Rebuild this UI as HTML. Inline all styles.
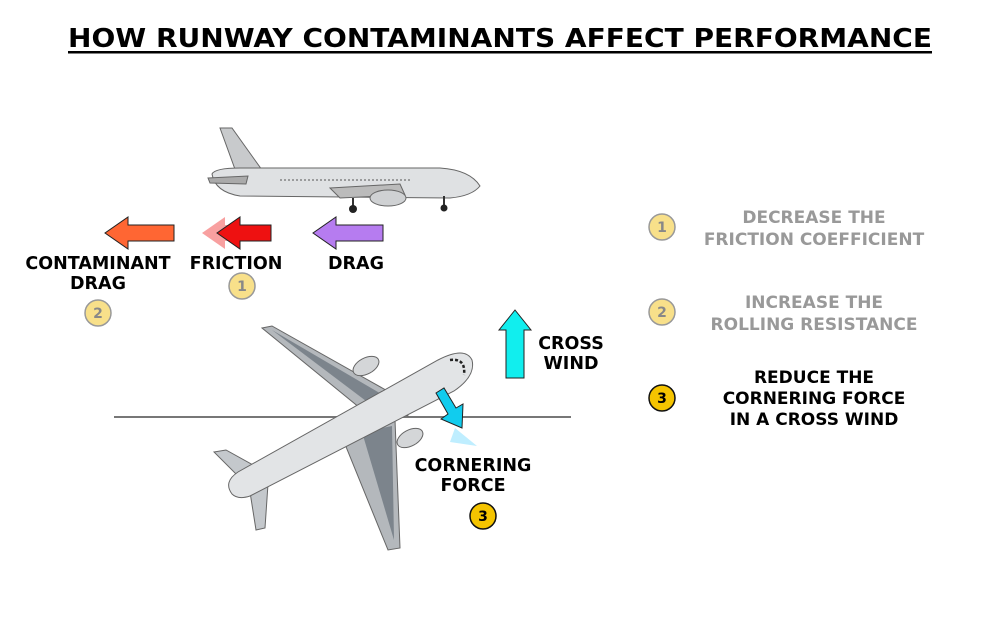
<!DOCTYPE html>
<html><head><meta charset="utf-8"><style>body{margin:0;background:#fff}svg{display:block}text{font-family:"DejaVu Sans","Liberation Sans",sans-serif;font-weight:bold}</style></head><body>
<svg width="1000" height="625" viewBox="0 0 1000 625" xmlns="http://www.w3.org/2000/svg">
<text x="500" y="47" font-size="26" text-anchor="middle" textLength="864" lengthAdjust="spacingAndGlyphs" fill="#000">HOW RUNWAY CONTAMINANTS AFFECT PERFORMANCE</text>
<rect x="68" y="51" width="864" height="2.5" fill="#000"/>

<!-- side plane -->
<g stroke="#666" stroke-width="1">
<path d="M220,128 L232,128 L262,170 L236,172 Z" fill="#c8cacc"/>
<path d="M212,174 Q215,168 240,168 L440,168 Q470,170 480,186 Q472,196 450,198 L240,196 Q215,192 212,174 Z" fill="#dfe1e3"/>
<path d="M208,178 L248,176 L246,184 L210,183 Z" fill="#aaa"/>
<path d="M330,188 L400,184 L405,195 L340,198 Z" fill="#bbb"/>
<ellipse cx="388" cy="198" rx="18" ry="8" fill="#cfd1d3"/>
</g>
<line x1="280" y1="180" x2="410" y2="180" stroke="#555" stroke-dasharray="2,2"/>
<line x1="353" y1="198" x2="353" y2="208" stroke="#333" stroke-width="2"/><circle cx="353" cy="209" r="4" fill="#222"/>
<line x1="444" y1="196" x2="444" y2="206" stroke="#333" stroke-width="2"/><circle cx="444" cy="208" r="3.5" fill="#222"/>

<!-- arrows -->
<path d="M174,225 L128,225 L128,217 L105,233 L128,249 L128,241 L174,241 Z" fill="#ff6633" stroke="#222" stroke-width="1"/>
<path d="M255,225 L225,225 L225,217 L202,233 L225,249 L225,241 L255,241 Z" fill="#f8a0a0"/>
<path d="M271,225 L240,225 L240,217 L217,233 L240,249 L240,241 L271,241 Z" fill="#ee1111" stroke="#222" stroke-width="1"/>
<path d="M383,225 L336,225 L336,217 L313,233 L336,249 L336,241 L383,241 Z" fill="#b67cf0" stroke="#222" stroke-width="1"/>
<g font-size="17.5" text-anchor="middle">
<text x="98" y="269">CONTAMINANT</text>
<text x="98" y="289">DRAG</text>
<text x="236" y="269">FRICTION</text>
<text x="356" y="269">DRAG</text>
</g>
<g font-size="14" text-anchor="middle">
<circle cx="242" cy="286" r="13" fill="#f8e08a" stroke="#999" stroke-width="1.5"/><text x="242" y="291" fill="#888">1</text>
<circle cx="98" cy="313" r="13" fill="#f8e08a" stroke="#999" stroke-width="1.5"/><text x="98" y="318" fill="#888">2</text>
</g>

<!-- runway line -->
<line x1="114" y1="417" x2="571" y2="417" stroke="#777" stroke-width="2"/>

<!-- top plane -->
<g stroke="#666" stroke-width="1">
<path d="M262,328 L272,326 L400,398 L408,416 L360,408 Z" fill="#b4b8bc"/>
<path d="M340,432 L395,420 L400,548 L388,550 Z" fill="#b4b8bc"/>
<path d="M272,330 L395,402 L370,404 Z" fill="#7c848c" stroke="none"/>
<path d="M362,432 L392,426 L394,540 Z" fill="#7c848c" stroke="none"/>
<path d="M214,452 L226,450 L262,470 L245,483 Z" fill="#c4c8cc"/>
<path d="M250,492 L268,484 L265,528 L256,530 Z" fill="#c4c8cc"/>
<ellipse cx="366" cy="366" rx="14" ry="8" transform="rotate(-28 366 366)" fill="#d4d6d8"/>
<ellipse cx="410" cy="438" rx="14" ry="8" transform="rotate(-28 410 438)" fill="#d4d6d8"/>
<path d="M232,494 Q223,482 238,472 L438,360 Q465,346 472,360 Q476,376 454,391 L250,496 Q238,500 232,494 Z" fill="#e2e4e6"/>
</g>
<path d="M450,360 Q466,358 464,375" fill="none" stroke="#222" stroke-width="2.5" stroke-dasharray="3,2"/>
<!-- cornering arrow -->
<path d="M455,428 L477,446 L450,442 Z" fill="#bfeeff"/>
<path d="M436,393 L444,388 L456,408 L463,404 L462,428 L441,419 L448,414 Z" fill="#11ccee" stroke="#222" stroke-width="1"/>
<!-- cross wind -->
<path d="M506,378 L506,330 L499,330 L515,310 L531,330 L524,330 L524,378 Z" fill="#11eeee" stroke="#222" stroke-width="1"/>
<g font-size="17.5" text-anchor="middle">
<text x="571" y="349">CROSS</text>
<text x="571" y="369">WIND</text>
<text x="473" y="471">CORNERING</text>
<text x="473" y="491">FORCE</text>
</g>
<circle cx="483" cy="516" r="13" fill="#f5c400" stroke="#111" stroke-width="1.5"/><text x="483" y="521" font-size="14" text-anchor="middle">3</text>

<!-- legend -->
<circle cx="662" cy="227" r="13" fill="#f8e08a" stroke="#999" stroke-width="1.5"/><text x="662" y="232" font-size="14" text-anchor="middle" fill="#888">1</text>
<circle cx="662" cy="312" r="13" fill="#f8e08a" stroke="#999" stroke-width="1.5"/><text x="662" y="317" font-size="14" text-anchor="middle" fill="#888">2</text>
<circle cx="662" cy="398" r="13" fill="#f5c400" stroke="#111" stroke-width="1.5"/><text x="662" y="403" font-size="14" text-anchor="middle">3</text>
<g font-size="17" text-anchor="middle">
<text x="814" y="223" fill="#999">DECREASE THE</text>
<text x="814" y="245" fill="#999">FRICTION COEFFICIENT</text>
<text x="814" y="308" fill="#999">INCREASE THE</text>
<text x="814" y="330" fill="#999">ROLLING RESISTANCE</text>
<text x="814" y="383">REDUCE THE</text>
<text x="814" y="404">CORNERING FORCE</text>
<text x="814" y="425">IN A CROSS WIND</text>
</g>
</svg>
</body></html>
